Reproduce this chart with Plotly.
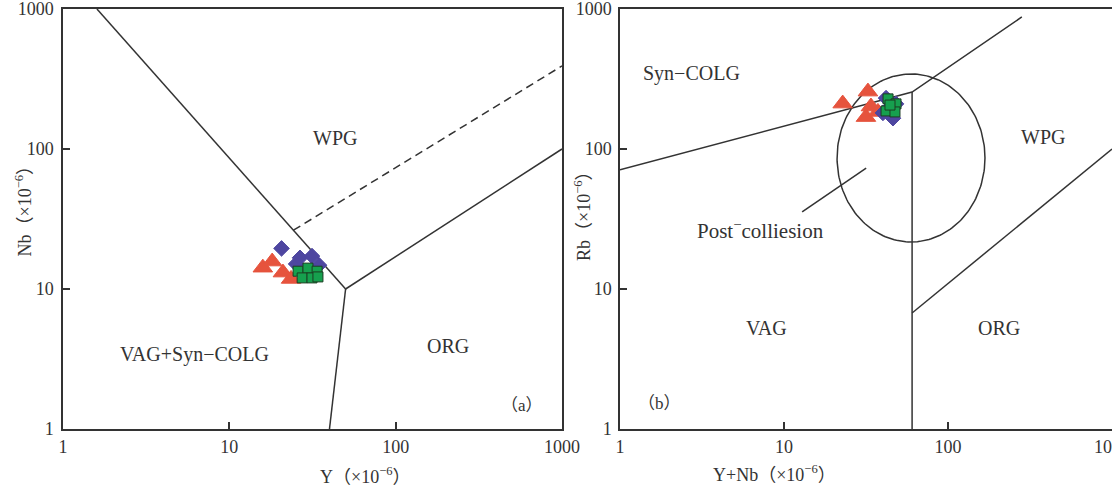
import numpy as np
import plotly.graph_objects as go

# ---------------- data (a): Y vs Nb ----------------
a_tri_y = [15.9, 18.1, 21.0, 23.5]
a_tri_nb = [14.2, 15.7, 13.1, 11.8]
a_dia_y = [20.6, 25.2, 26.6, 31.4, 34.6]
a_dia_nb = [19.5, 15.1, 16.7, 17.2, 14.8]
a_sq_y = [25.9, 29.7, 33.7, 27.4, 31.4, 34.1]
a_sq_nb = [13.4, 14.1, 13.4, 12.0, 12.0, 12.2]

# ---------------- data (b): Y+Nb vs Rb ----------------
b_tri_x = [22.8, 32.5, 31.6, 33.9, 37.4]
b_tri_rb = [211, 257, 169, 201, 184]
b_dia_x = [41.9, 40.1, 46.2, 48.2, 43.7]
b_dia_rb = [231, 181, 166, 210, 196]
b_sq_x = [43.1, 48.2, 41.9, 47.5, 44.3]
b_sq_rb = [228, 210, 187, 184, 206]

# discrimination boundaries (Pearce et al. 1984)
a_bound_upper_x = [1.6, 50]
a_bound_upper_y = [1000, 10]
a_bound_lower_x = [50, 40]
a_bound_lower_y = [10, 1]
a_bound_right_x = [50, 1000]
a_bound_right_y = [10, 100]
a_dash_x = [24.3, 1000]
a_dash_y = [26.3, 392]

b_syn_x = [1, 60.4, 282]
b_syn_y = [71, 255, 877]
b_vert_x = [60.4, 60.4]
b_vert_y = [255, 1]
b_org_x = [60.4, 1000]
b_org_y = [6.74, 100]
b_ell_center = (59.5, 86.3)   # data values
b_ell_radii = (0.451, 0.60)   # in decades
b_pointer_x = [12.9, 31.7]
b_pointer_y = [35.5, 73.1]

tickvals = [1, 10, 100, 1000]
ticktext = ["1", "10", "100", "1000"]

RED = "#E6533D"
BLUE = "#4E46A0"
GREEN = "#16A04E"
LINE = "#333333"
FONT = "Liberation Serif, Noto Sans CJK SC"

fig = go.Figure()

def line(x, y, xa, ya, dash="solid"):
    fig.add_trace(go.Scatter(x=x, y=y, mode="lines", xaxis=xa, yaxis=ya,
                             line=dict(color=LINE, width=1.5, dash=dash),
                             hoverinfo="skip", showlegend=False))

# (a) boundaries
line(a_bound_upper_x, a_bound_upper_y, "x", "y")
line(a_bound_lower_x, a_bound_lower_y, "x", "y")
line(a_bound_right_x, a_bound_right_y, "x", "y")
line(a_dash_x, a_dash_y, "x", "y", dash="8px,5px")

# (b) boundaries
line(b_syn_x, b_syn_y, "x2", "y2")
line(b_vert_x, b_vert_y, "x2", "y2")
line(b_org_x, b_org_y, "x2", "y2")
t = np.linspace(0, 2 * np.pi, 200)
ex = 10 ** (np.log10(b_ell_center[0]) + b_ell_radii[0] * np.cos(t))
ey = 10 ** (np.log10(b_ell_center[1]) + b_ell_radii[1] * np.sin(t))
line(ex, ey, "x2", "y2")
line(b_pointer_x, b_pointer_y, "x2", "y2")

def pts(x, y, xa, ya, symbol, color, size, edge):
    fig.add_trace(go.Scatter(x=x, y=y, mode="markers", xaxis=xa, yaxis=ya,
                             marker=dict(symbol=symbol, color=color, size=size,
                                         line=dict(color=edge, width=1)),
                             showlegend=False))

pts(a_tri_y, a_tri_nb, "x", "y", "triangle-up", RED, 17, RED)
pts(a_dia_y, a_dia_nb, "x", "y", "diamond", BLUE, 12, BLUE)
pts(a_sq_y, a_sq_nb, "x", "y", "square", GREEN, 10, "#1c3d22")
pts(b_tri_x, b_tri_rb, "x2", "y2", "triangle-up", RED, 17, RED)
pts(b_dia_x, b_dia_rb, "x2", "y2", "diamond", BLUE, 12, BLUE)
pts(b_sq_x, b_sq_rb, "x2", "y2", "square", GREEN, 10, "#1c3d22")

axis_common = dict(type="log", range=[0, 3], tickvals=tickvals, ticktext=ticktext,
                   ticks="inside", ticklen=7, tickcolor=LINE, tickwidth=1.5,
                   showline=True, mirror=True, linecolor=LINE, linewidth=1.5,
                   showgrid=False, zeroline=False, automargin=False,
                   ticklabeloverflow="allow",
                   tickfont=dict(family=FONT, size=18, color="#333"))

fig.update_layout(
    width=1112, height=488,
    margin=dict(l=0, r=0, t=0, b=0, autoexpand=False),
    paper_bgcolor="white", plot_bgcolor="white",
    xaxis=dict(domain=[63 / 1112, 562 / 1112], anchor="y", ticklabelstandoff=1, **axis_common),
    yaxis=dict(domain=[1 - 429 / 488, 1 - 9 / 488], anchor="x", ticklabelstandoff=4, **axis_common),
    xaxis2=dict(domain=[620 / 1112, 1.0], anchor="y2", ticklabelstandoff=1, **axis_common),
    yaxis2=dict(domain=[1 - 429 / 488, 1 - 9 / 488], anchor="x2", ticklabelstandoff=3, **axis_common),
)

def label(text, x, y, xa, ya, size=20):
    fig.add_annotation(text=text, x=np.log10(x), y=np.log10(y), xref=xa, yref=ya,
                       showarrow=False, font=dict(family=FONT, size=size, color="#333"))

label("WPG", 43.2, 120, "x", "y")
label("VAG+Syn−COLG", 6.2, 3.43, "x", "y")
label("ORG", 206, 3.92, "x", "y")
label("（a）", 575, 1.48, "x", "y", size=17)

label("Syn−COLG", 2.74, 349, "x2", "y2")
label("WPG", 378, 122, "x2", "y2")
label("VAG", 7.83, 5.27, "x2", "y2")
label("ORG", 204, 5.27, "x2", "y2")
label("Post<sup>−</sup>colliesion", 7.2, 26.4, "x2", "y2", size=21)
label("（b）", 1.73, 1.51, "x2", "y2", size=17)

def paper_text(text, px, py, angle=0):
    fig.add_annotation(text=text, x=px / 1112, y=1 - py / 488, xref="paper", yref="paper",
                       showarrow=False, textangle=angle,
                       font=dict(family=FONT, size=18, color="#333"))

paper_text("Nb（×10<sup>−6</sup>）", 10, 207, -90)
paper_text("Y（×10<sup>−6</sup>）", 318, 489)
paper_text("Rb（×10<sup>−6</sup>）", 583, 212, -90)
paper_text("Y+Nb（×10<sup>−6</sup>）", 838, 487)

fig.write_html("out.html")
